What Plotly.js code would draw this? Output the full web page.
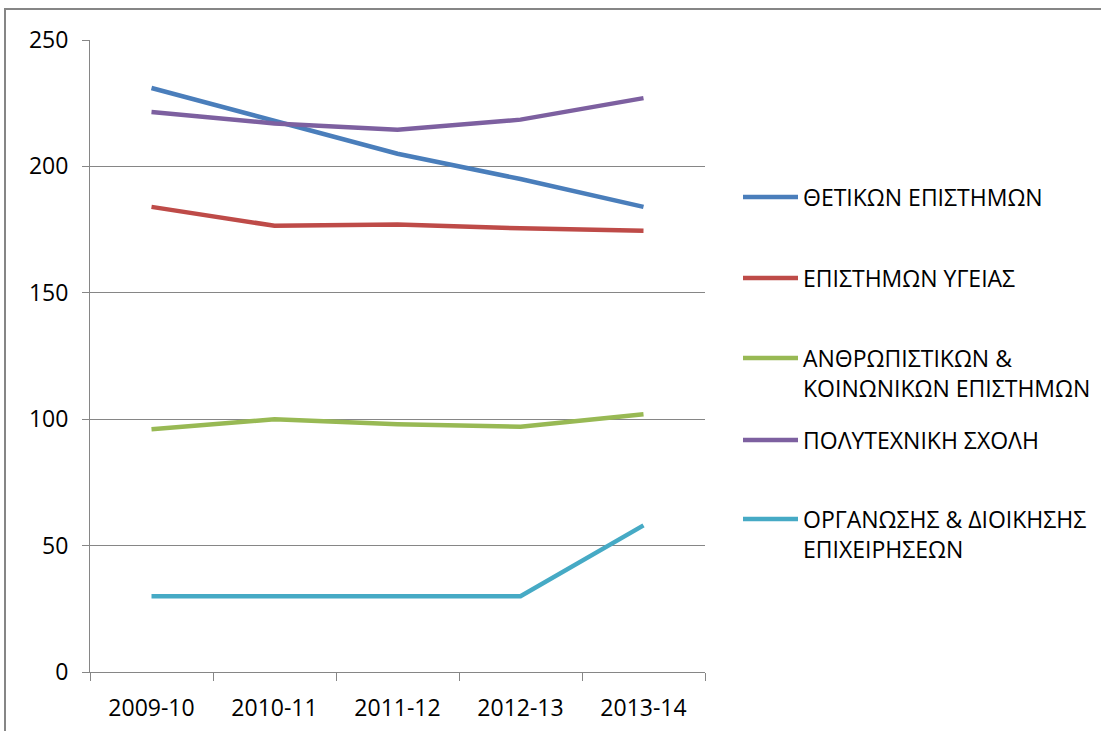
<!DOCTYPE html>
<html>
<head>
<meta charset="utf-8">
<script src="https://cdn.plot.ly/plotly-3.0.1.min.js"></script>
<style>
html,body{margin:0;padding:0;background:#fff;overflow:hidden;}
#chart{width:1101px;height:731px;}
</style>
</head>
<body>
<div id="chart"></div>
<script>
const years = ["2009-10", "2010-11", "2011-12", "2012-13", "2013-14"];
const seriesNames = [
  "ΘΕΤΙΚΩΝ ΕΠΙΣΤΗΜΩΝ",
  "ΕΠΙΣΤΗΜΩΝ ΥΓΕΙΑΣ",
  "ΑΝΘΡΩΠΙΣΤΙΚΩΝ &<br>ΚΟΙΝΩΝΙΚΩΝ ΕΠΙΣΤΗΜΩΝ",
  "ΠΟΛΥΤΕΧΝΙΚΗ ΣΧΟΛΗ",
  "ΟΡΓΑΝΩΣΗΣ & ΔΙΟΙΚΗΣΗΣ<br>ΕΠΙΧΕΙΡΗΣΕΩΝ"
];
const thetikon = [231, 218, 205, 195, 184];
const ygeias = [184, 176.5, 177, 175.5, 174.5];
const anthropistikon = [96, 100, 98, 97, 102];
const polytexniki = [221.5, 217, 214.5, 218.5, 227];
const organosis = [30, 30, 30, 30, 58];
const seriesValues = [thetikon, ygeias, anthropistikon, polytexniki, organosis];
const colors = ["#4A7EBB", "#BE4B48", "#98B954", "#7D60A0", "#46AAC5"];

const legendIds = ["legend", "legend2", "legend3", "legend4", "legend5"];
// vertical centres (px) of each legend entry in the reference
const legendCentres = [197, 278, 373, 440, 534];

const traces = seriesValues.map((vals, i) => ({
  x: years,
  y: vals,
  name: seriesNames[i],
  type: "scatter",
  mode: "lines",
  legend: legendIds[i],
  line: {color: colors[i], width: 4.5}
}));

const fam = "Open Sans, Noto Sans, sans-serif";

const layout = {
  width: 1101,
  height: 731,
  margin: {l: 90, r: 396, t: 40, b: 59, autoexpand: false},
  paper_bgcolor: "#fff",
  plot_bgcolor: "#fff",
  font: {family: fam, size: 23, color: "#000"},
  showlegend: true,
  xaxis: {
    type: "category",
    range: [-0.5, 4.5],
    tickson: "boundaries",
    ticks: "outside",
    ticklen: 8,
    tickcolor: "#868686",
    showline: true,
    linecolor: "#868686",
    linewidth: 1,
    showgrid: false,
    ticklabelstandoff: 15,
    tickfont: {family: fam, size: 23, color: "#000"},
    fixedrange: true
  },
  yaxis: {
    range: [0, 250],
    dtick: 50,
    ticks: "outside",
    ticklen: 7,
    tickcolor: "#868686",
    showline: true,
    linecolor: "#868686",
    linewidth: 1,
    showgrid: true,
    gridcolor: "#868686",
    gridwidth: 1,
    zeroline: false,
    ticklabelstandoff: 9,
    tickfont: {family: fam, size: 23, color: "#000"},
    fixedrange: true
  },
  shapes: [{
    type: "rect", xref: "paper", yref: "paper",
    x0: (5 - 90) / 615, x1: (1140 - 90) / 615,
    y0: (672 - 760) / 632, y1: (672 - 9) / 632,
    line: {color: "#868686", width: 2},
    fillcolor: "rgba(0,0,0,0)",
    layer: "below"
  }]
};

legendIds.forEach((id, i) => {
  layout[id] = {
    x: (738 - 90) / 615, xanchor: "left",
    y: (672 - legendCentres[i]) / 632, yanchor: "middle",
    itemwidth: 55,
    valign: "top",
    font: {family: fam, size: 23, color: "#000"},
    bgcolor: "rgba(0,0,0,0)"
  };
});

Plotly.newPlot("chart", traces, layout, {displayModeBar: false, staticPlot: true});
</script>
</body>
</html>
